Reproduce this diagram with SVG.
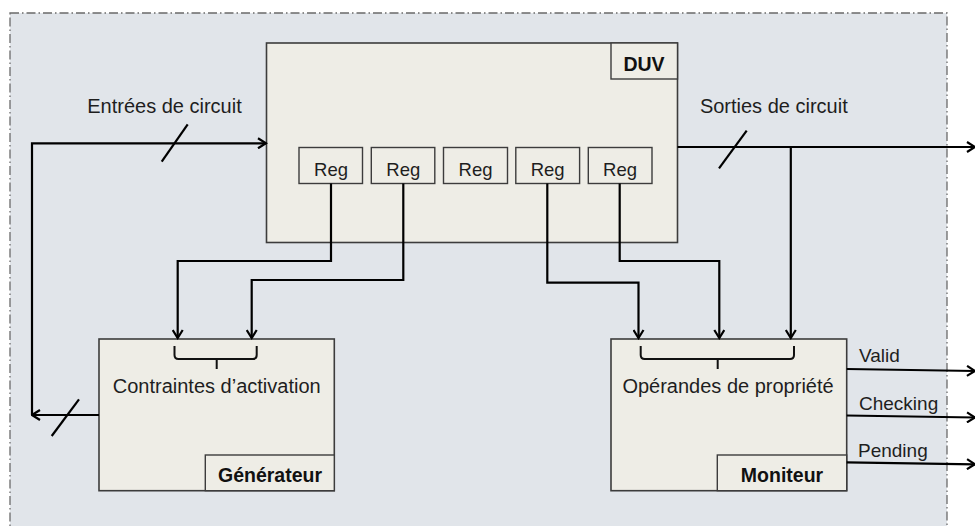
<svg xmlns="http://www.w3.org/2000/svg" width="975" height="526" viewBox="0 0 975 526">
<defs>
<style>
.panel{fill:#e1e5ea;stroke:#6a6a6a;stroke-width:1.3;stroke-dasharray:9,3,1.5,3}
.box{fill:#eeede6;stroke:#3c3c3c;stroke-width:1.6}
.lbl{fill:#eeede6;stroke:#3c3c3c;stroke-width:1.4}
.t{font-family:"Liberation Sans",Arial,sans-serif;font-size:20px;fill:#1e1e1e}
.s{font-family:"Liberation Sans",Arial,sans-serif;font-size:19px;fill:#1e1e1e}
.r{font-family:"Liberation Sans",Arial,sans-serif;font-size:18.5px;fill:#1e1e1e}
.b{font-family:"Liberation Sans",Arial,sans-serif;font-size:19.5px;font-weight:bold;fill:#111}
.w{fill:none;stroke:#000;stroke-width:2.2}
.a{fill:none;stroke:#000;stroke-width:2.2;marker-end:url(#arr)}
.br{fill:none;stroke:#111;stroke-width:2}
</style>
<marker id="arr" viewBox="0 0 12 12" refX="10.5" refY="6" markerWidth="12" markerHeight="12" markerUnits="userSpaceOnUse" orient="auto">
<path d="M2.5,1 L10.5,6 L2.5,11" fill="none" stroke="#000" stroke-width="2.2"/>
</marker>
</defs>
<rect width="975" height="526" fill="#ffffff"/>
<rect id="panel" class="panel" x="10" y="13" width="937" height="530"/>

<g id="duv">
<rect class="box" x="266.5" y="43" width="411" height="199.5"/>
<rect class="lbl" x="611" y="43" width="66.5" height="36"/>
<text class="b" x="644" y="70.5" text-anchor="middle">DUV</text>
</g>
<g id="reg1"><rect class="lbl" x="299" y="147.5" width="63.5" height="36"/><text class="r" x="331" y="175.5" text-anchor="middle">Reg</text></g>
<g id="reg2"><rect class="lbl" x="371.3" y="147.5" width="63.5" height="36"/><text class="r" x="403.3" y="175.5" text-anchor="middle">Reg</text></g>
<g id="reg3"><rect class="lbl" x="443.5" y="147.5" width="64" height="36"/><text class="r" x="475.5" y="175.5" text-anchor="middle">Reg</text></g>
<g id="reg4"><rect class="lbl" x="515.8" y="147.5" width="63.8" height="36"/><text class="r" x="547.7" y="175.5" text-anchor="middle">Reg</text></g>
<g id="reg5"><rect class="lbl" x="588.3" y="147.5" width="63.7" height="36"/><text class="r" x="620" y="175.5" text-anchor="middle">Reg</text></g>

<g id="generateur">
<rect class="box" x="99" y="339" width="235.3" height="151.7"/>
<rect class="lbl" x="205.3" y="455" width="129" height="35.7"/>
<text class="b" x="270" y="482" text-anchor="middle">Générateur</text>
<path class="br" d="M174.5,346 V355 Q174.5,359 178.5,359 H252.7 Q256.7,359 256.7,355 V346 M216.7,359 V369"/>
<text class="t" x="216.7" y="393" text-anchor="middle">Contraintes d’activation</text>
</g>

<g id="moniteur">
<rect class="box" x="611" y="339" width="235.7" height="151.7"/>
<rect class="lbl" x="717.3" y="455" width="129.4" height="35.7"/>
<text class="b" x="782" y="482.3" text-anchor="middle">Moniteur</text>
<path class="br" d="M640.7,346 V355 Q640.7,359 644.7,359 H790 Q794,359 794,355 V346 M717.7,359 V369"/>
<text class="t" x="728" y="393" text-anchor="middle">Opérandes de propriété</text>
</g>

<g id="connectors">
<path class="a" d="M331,183.5 V261 H177.7 V338"/>
<path class="a" d="M403.3,183.5 V280 H251.7 V338"/>
<path class="a" d="M547.3,183.5 V282.7 H638.5 V338"/>
<path class="a" d="M619.7,183.5 V261 H719.3 V338"/>
<path class="a" d="M677.5,147 H975"/>
<path class="a" d="M790.8,147 V338"/>
<path class="a" d="M32,415 V143.3 H266"/>
<path class="a" d="M99,415 H32"/>
<path class="a" d="M846.7,369 L975,371"/>
<path class="a" d="M846.7,415.5 L975,417.5"/>
<path class="a" d="M846.7,462.3 L975,464.3"/>
<path class="w" d="M161.7,161.7 L187.7,124.3"/>
<path class="w" d="M719,168.3 L746.7,130.7"/>
<path class="w" d="M51.7,436 L79,399.3"/>
</g>

<g id="labels">
<text class="t" x="164.5" y="113" text-anchor="middle">Entrées de circuit</text>
<text class="t" x="773.8" y="113" text-anchor="middle">Sorties de circuit</text>
<text class="s" x="859" y="362">Valid</text>
<text class="s" x="859" y="410">Checking</text>
<text class="s" x="858" y="456.7">Pending</text>
</g>
</svg>
